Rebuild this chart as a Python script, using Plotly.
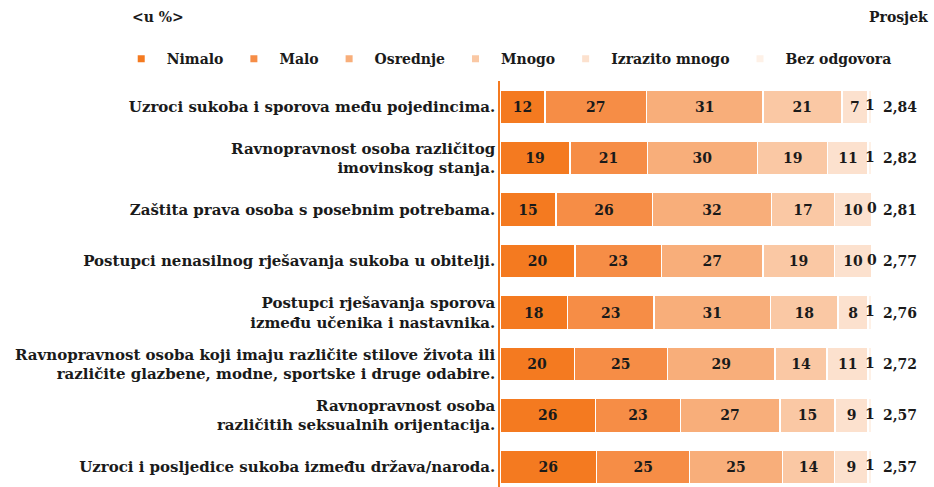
import plotly.graph_objects as go

categories = [
    "Uzroci sukoba i sporova među pojedincima.",
    "Ravnopravnost osoba različitog<br>imovinskog stanja.",
    "Zaštita prava osoba s posebnim potrebama.",
    "Postupci nenasilnog rješavanja sukoba u obitelji.",
    "Postupci rješavanja sporova<br>između učenika i nastavnika.",
    "Ravnopravnost osoba koji imaju različite stilove života ili<br>različite glazbene, modne, sportske i druge odabire.",
    "Ravnopravnost osoba<br>različitih seksualnih orijentacija.",
    "Uzroci i posljedice sukoba između država/naroda.",
]
series_names = ["Nimalo", "Malo", "Osrednje", "Mnogo", "Izrazito mnogo", "Bez odgovora"]
nimalo = [12, 19, 15, 20, 18, 20, 26, 26]
malo = [27, 21, 26, 23, 23, 25, 23, 25]
osrednje = [31, 30, 32, 27, 31, 29, 27, 25]
mnogo = [21, 19, 17, 19, 18, 14, 15, 14]
izrazito = [7, 11, 10, 10, 8, 11, 9, 9]
bez_odgovora = [1, 1, 0, 0, 1, 1, 1, 1]
prosjek = ["2,84", "2,82", "2,81", "2,77", "2,76", "2,72", "2,57", "2,57"]

colors = ["#F47A20", "#F68D46", "#F8AE7A", "#FAC8A4", "#FCE1CE", "#FEF1E7"]
FONT = "DejaVu Serif"
TXT = "#1a1a1a"

series = [nimalo, malo, osrednje, mnogo, izrazito, bez_odgovora]
rows = list(range(len(categories)))
totals = [sum(v) for v in zip(*series)]

fig = go.Figure()
for name, vals, col in zip(series_names, series, colors):
    is_last = name == series_names[-1]
    fig.add_trace(go.Bar(
        y=rows, x=vals, name=name, orientation="h",
        marker=dict(color=col, line=dict(color="white", width=1.5)),
        text=None if is_last else [str(v) for v in vals],
        textposition="none" if is_last else "inside",
        insidetextanchor="middle", textangle=0, constraintext="none",
        textfont=dict(family=FONT, size=14, color=TXT, weight="bold"),
        width=0.66, showlegend=False, hoverinfo="skip", cliponaxis=False,
    ))

# labels of the last (thin) segment, placed at its centre in percent units
bez_x = [100 - (b / 2) * 100 / t for b, t in zip(bez_odgovora, totals)]
fig.add_trace(go.Scatter(
    x=bez_x, y=rows, mode="text", text=[str(v) for v in bez_odgovora],
    textfont=dict(family=FONT, size=14, color=TXT, weight="bold"),
    showlegend=False, hoverinfo="skip", cliponaxis=False,
))

# legend entries
for name, col in zip(series_names, colors):
    fig.add_trace(go.Scatter(
        x=[None], y=[None], mode="markers", name=name,
        marker=dict(symbol="square", size=7, color=col),
    ))

for r, p in zip(rows, prosjek):
    fig.add_annotation(x=1, xref="paper", y=r, yref="y", text=p,
                       xanchor="left", xshift=9, showarrow=False,
                       font=dict(family=FONT, size=14, color=TXT, weight="bold"))

fig.add_annotation(x=-0.995, xref="paper", y=1.158, yref="paper", text="&lt;u %&gt;",
                   xanchor="left", yanchor="middle", showarrow=False,
                   font=dict(family=FONT, size=14, color=TXT, weight="bold"))
fig.add_annotation(x=1.156, xref="paper", y=1.158, yref="paper", text="Prosjek",
                   xanchor="right", yanchor="middle", showarrow=False,
                   font=dict(family=FONT, size=14, color=TXT, weight="bold"))

fig.update_layout(
    width=934, height=487,
    margin=dict(l=500, r=62, t=81, b=0, autoexpand=False),
    barmode="stack", barnorm="percent",
    plot_bgcolor="white", paper_bgcolor="white",
    font=dict(family=FONT, size=13, color=TXT, weight="bold"),
    xaxis=dict(range=[0, 100.05], visible=False),
    yaxis=dict(range=[7.39, -0.5], tickvals=rows, ticktext=categories,
               showline=True, linecolor="#F47A20", linewidth=1.5,
               showgrid=False, zeroline=False, ticks="", automargin=False,
               tickfont=dict(family=FONT, size=15, color=TXT, weight="bold")),
    legend=dict(orientation="h", traceorder="normal",
                x=-1.033, xanchor="left", y=1.054, yanchor="middle",
                font=dict(family=FONT, size=14, color=TXT, weight="bold"),
                itemwidth=41, bgcolor="rgba(0,0,0,0)"),
)

fig.write_html("out.html", config={"displayModeBar": False},
               post_script="document.body.style.margin='0';")
